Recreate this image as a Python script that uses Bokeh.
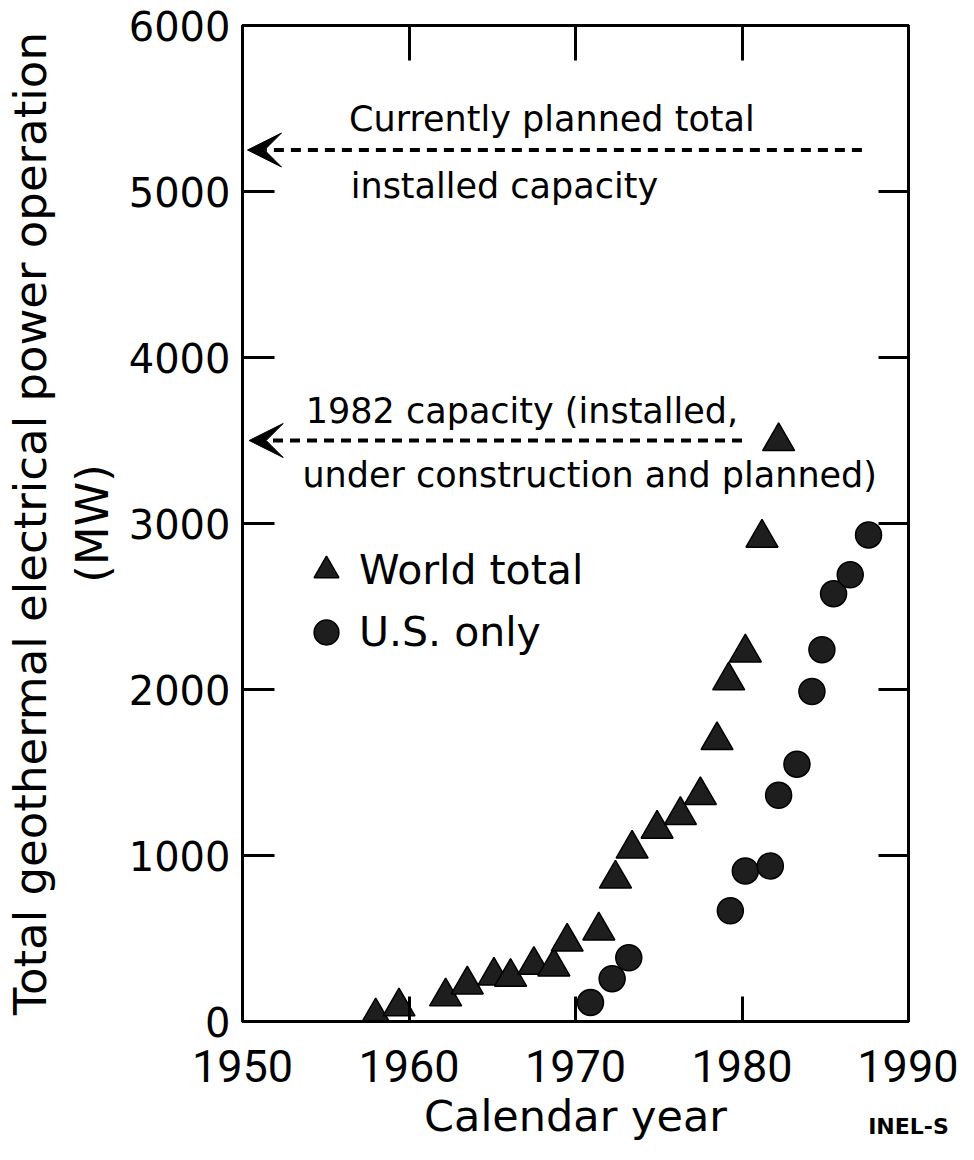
from bokeh.plotting import figure
from bokeh.models import (LinearAxis, FixedTicker, Title, Label, Arrow, VeeHead,
                          Legend, LegendItem, ColumnDataSource, Range1d)
from bokeh.embed import file_html
from bokeh.resources import INLINE

# ---- data ----
world_years = [1958.0, 1959.4, 1962.2, 1963.5, 1965.1, 1966.1, 1967.5, 1968.7, 1969.5,
               1971.4, 1972.4, 1973.4, 1974.9, 1976.3, 1977.5, 1978.5, 1979.2, 1980.2,
               1981.2, 1982.2]
world_mw = [30, 90, 150, 222, 275, 268, 340, 330, 480,
            547, 860, 1040, 1160, 1243, 1363, 1694, 2054, 2222,
            2913, 3495]

us_years = [1970.9, 1972.2, 1973.2, 1979.3, 1980.2, 1981.7, 1982.2, 1983.3, 1984.2,
            1984.8, 1985.5, 1986.5, 1987.6]
us_mw = [114, 258, 384, 667, 907, 937, 1363, 1550, 1988,
         2240, 2577, 2691, 2931]

x_ticks = [1950, 1960, 1970, 1980, 1990]
y_ticks = [0, 1000, 2000, 3000, 4000, 5000, 6000]
top_ticks = [1960, 1970, 1980]
right_ticks = [1000, 2000, 3000, 4000, 5000]

planned_total = 5250      # currently planned total installed capacity
capacity_1982 = 3500      # 1982 capacity

FONT = "DejaVu Sans"

p = figure(width=958, height=1144, x_range=Range1d(1950, 1990), y_range=Range1d(0, 6000),
           output_backend="svg", toolbar_location=None,
           min_border_left=242, min_border_right=50, min_border_top=25, min_border_bottom=123)
p.grid.visible = False
p.outline_line_color = "black"
p.outline_line_width = 3
p.background_fill_color = "white"
p.border_fill_color = "white"

def style_axis(ax, tick_in):
    ax.major_tick_in = tick_in
    ax.major_tick_out = 0
    ax.minor_tick_in = 0
    ax.minor_tick_out = 0
    ax.major_tick_line_width = 3
    ax.major_tick_line_color = "black"
    ax.axis_line_width = 3
    ax.axis_line_color = "black"

xa = p.xaxis[0]
xa.ticker = FixedTicker(ticks=x_ticks)
style_axis(xa, 25)
xa.major_label_text_font = "Roboto"
xa.major_label_text_font_size = "45px"
xa.major_label_text_color = "black"
xa.major_label_standoff = 28
xa.axis_label = "Calendar year"
xa.axis_label_text_font = FONT
xa.axis_label_text_font_size = "43px"
xa.axis_label_text_font_style = "normal"
xa.axis_label_text_color = "black"
xa.axis_label_standoff = 6

ya = p.yaxis[0]
ya.ticker = FixedTicker(ticks=y_ticks)
style_axis(ya, 32)
ya.major_label_text_font = FONT
ya.major_label_text_font_style = "normal"
ya.major_label_text_font_size = "40px"
ya.major_label_text_color = "black"
ya.major_label_standoff = 12

top = LinearAxis(ticker=FixedTicker(ticks=top_ticks))
style_axis(top, 35)
top.major_label_text_font_size = "1px"
top.major_label_text_color = None
top.major_label_standoff = 0
p.add_layout(top, "above")

right = LinearAxis(ticker=FixedTicker(ticks=right_ticks))
style_axis(right, 30)
right.major_label_text_font_size = "1px"
right.major_label_text_color = None
right.major_label_standoff = 0
p.add_layout(right, "right")

# figure id at the bottom right, on the row of the x-axis title
id_axis = LinearAxis(ticker=FixedTicker(ticks=[1990]), major_label_overrides={1990: "INEL-S"})
id_axis.major_tick_in = 0
id_axis.major_tick_out = 0
id_axis.minor_tick_in = 0
id_axis.minor_tick_out = 0
id_axis.axis_line_color = None
id_axis.major_tick_line_color = None
id_axis.major_label_text_font = FONT
id_axis.major_label_text_font_size = "22px"
id_axis.major_label_text_font_style = "bold"
id_axis.major_label_text_color = "black"
id_axis.major_label_standoff = -30
p.add_layout(id_axis, "below")

p.add_layout(Title(text="(MW)", align="center", text_font=FONT, text_font_size="45px",
                   text_font_style="normal", text_color="black", standoff=14), "left")
p.add_layout(Title(text="Total geothermal electrical power operation", align="center",
                   text_font=FONT, text_font_size="45px", text_font_style="normal",
                   text_color="black", standoff=0), "left")

world_src = ColumnDataSource(dict(x=world_years, y=world_mw))
us_src = ColumnDataSource(dict(x=us_years, y=us_mw))
tri = p.scatter("x", "y", source=world_src, marker="triangle", size=32,
                fill_color="#1e1e1e", line_color="black", line_width=1.5)
cir = p.scatter("x", "y", source=us_src, marker="circle", size=26,
                fill_color="#1e1e1e", line_color="black", line_width=1.5)

legend = Legend(items=[LegendItem(label="World total", renderers=[tri]),
                       LegendItem(label="U.S. only", renderers=[cir])],
                location=(53, 358), glyph_width=62, glyph_height=62, spacing=0,
                padding=0, margin=0, border_line_color=None, background_fill_alpha=0,
                label_text_font=FONT, label_text_font_size="41px", label_text_color="black",
                label_standoff=2)
p.add_layout(legend)

for xs, xe, yv in [(1987.2, 1950.3, planned_total), (1980.0, 1950.4, capacity_1982)]:
    p.add_layout(Arrow(end=VeeHead(size=34, fill_color="black", line_color="black", line_width=1),
                       x_start=xs, y_start=yv, x_end=xe, y_end=yv,
                       line_color="black", line_width=4, line_dash="10 7"))

for tx, ty, txt in [(1956.4, 5435, "Currently planned total"),
                    (1956.5, 5033, "installed capacity"),
                    (1953.8, 3676, "1982 capacity (installed,"),
                    (1953.6, 3295, "under construction and planned)")]:
    p.add_layout(Label(x=tx, y=ty, text=txt, text_font=FONT, text_font_size="35px",
                       text_color="black", text_baseline="alphabetic", text_align="left"))

open("out.html", "w").write(file_html(p, INLINE))
